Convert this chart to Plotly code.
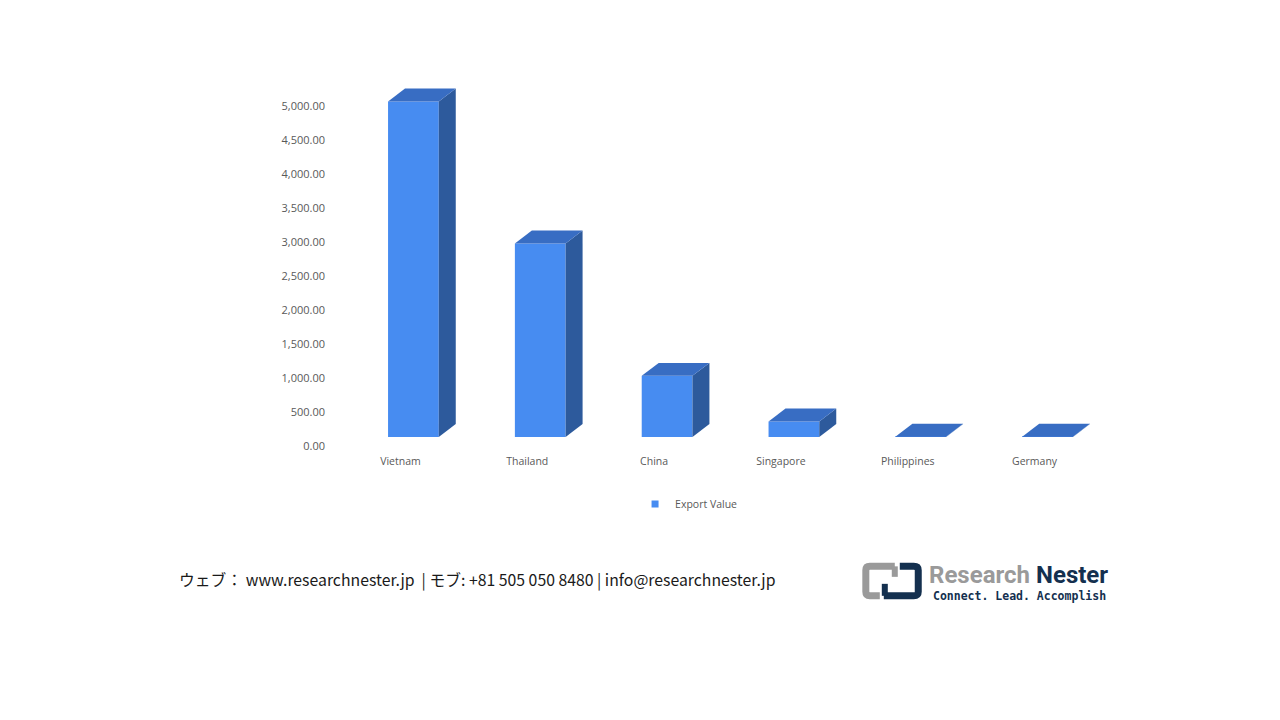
import plotly.graph_objects as go

categories = ["Vietnam", "Thailand", "China", "Singapore", "Philippines", "Germany"]
export_value = [4940, 2850, 900, 230, 5, 3]
y_tick_values = [0, 500, 1000, 1500, 2000, 2500, 3000, 3500, 4000, 4500, 5000]
y_tick_labels = [f"{v:,.2f}" for v in y_tick_values]
series_name = "Export Value"

W, H = 1280, 720
OFF = 8  # page body margin
L, R = 349.5 - OFF, 1111.5 - OFF
T, B = 76.6 - OFF, 437.0 - OFF
YMAX = 5300
PW, PH = R - L, B - T

FRONT = "#478CF1"
TOP = "#386DC3"
SIDE = "#2D5A9C"

n = len(categories)
xs = list(range(n))
bar_w = 0.40
px_per_cat = PW / n
px_per_val = PH / YMAX
dx = 17 / px_per_cat
dy = 13 / px_per_val

fig = go.Figure()
fig.add_trace(go.Bar(
    x=xs, y=export_value, width=bar_w, name=series_name,
    marker=dict(color=FRONT, line=dict(width=0)),
    showlegend=False,
))
fig.add_trace(go.Scatter(
    x=[None], y=[None], mode="markers", name=series_name,
    marker=dict(symbol="square", size=7, color=FRONT),
    showlegend=True, hoverinfo="skip",
))

shapes = []
for i, v in zip(xs, export_value):
    xl, xr = i - bar_w / 2, i + bar_w / 2
    side = f"M{xr},0 L{xr},{v} L{xr+dx},{v+dy} L{xr+dx},{dy} Z"
    top = f"M{xl},{v} L{xr},{v} L{xr+dx},{v+dy} L{xl+dx},{v+dy} Z"
    shapes.append(dict(type="path", path=side, xref="x", yref="y",
                       fillcolor=SIDE, line=dict(width=0), layer="above"))
    shapes.append(dict(type="path", path=top, xref="x", yref="y",
                       fillcolor=TOP, line=dict(width=0), layer="above"))

def px(p):
    return (p - OFF - L) / PW

def py(p):
    return (B - (p - OFF)) / PH

GRAY = "#9A9A9A"
NAVY = "#14304F"
# logo icon
shapes.append(dict(type="path", xref="paper", yref="paper",
                   path=f"M{px(895)},{py(566.5)} L{px(870)},{py(566.5)} Q{px(866)},{py(566.5)} {px(866)},{py(570.5)} "
                        f"L{px(866)},{py(592)} Q{px(866)},{py(596)} {px(870)},{py(596)} L{px(880)},{py(596)}",
                   line=dict(color=GRAY, width=7)))
shapes.append(dict(type="path", xref="paper", yref="paper",
                   path=f"M{px(895)},{py(566.5)} L{px(895)},{py(577)}",
                   line=dict(color=GRAY, width=6)))
shapes.append(dict(type="path", xref="paper", yref="paper",
                   path=f"M{px(900)},{py(566.5)} L{px(914)},{py(566.5)} Q{px(918.5)},{py(566.5)} {px(918.5)},{py(570.5)} "
                        f"L{px(918.5)},{py(592)} Q{px(918.5)},{py(596)} {px(914)},{py(596)} L{px(884)},{py(596)}",
                   line=dict(color=NAVY, width=7)))
shapes.append(dict(type="path", xref="paper", yref="paper",
                   path=f"M{px(885)},{py(596)} L{px(885)},{py(584)}",
                   line=dict(color=NAVY, width=6)))

annotations = [
    dict(xref="paper", yref="paper", x=px(176), y=py(580), xanchor="left", yanchor="middle",
         text="ウェブ： www.researchnester.jp  | モブ: +81 505 050 8480 | info@researchnester.jp",
         showarrow=False, font=dict(family="Noto Sans CJK JP", size=15.8, color="#1a1a1a")),
    dict(xref="paper", yref="paper", x=px(927), y=py(575), xanchor="left", yanchor="middle",
         text="<b>Research</b>", showarrow=False,
         font=dict(family="Roboto", size=24, color=GRAY)),
    dict(xref="paper", yref="paper", x=px(1110), y=py(575), xanchor="right", yanchor="middle",
         text="<b>Nester</b>", showarrow=False,
         font=dict(family="Roboto", size=24, color=NAVY)),
    dict(xref="paper", yref="paper", x=px(1020), y=py(596), xanchor="center", yanchor="middle",
         text="<b>Connect. Lead. Accomplish</b>", showarrow=False,
         font=dict(family="DejaVu Sans Mono", size=11.5, color=NAVY)),
]

fig.update_layout(
    width=W, height=H,
    margin=dict(l=L, r=W - R, t=T, b=H - B, pad=0),
    paper_bgcolor="white", plot_bgcolor="white",
    font=dict(family="Open Sans", color="#595959", size=10.5),
    showlegend=True,
    legend=dict(orientation="h", x=px(689), xanchor="center", y=py(504), yanchor="middle",
                itemwidth=30, font=dict(size=10.5, color="#595959")),
    xaxis=dict(range=[-0.5, n - 0.5], tickvals=xs, ticktext=categories,
               showgrid=False, zeroline=False, showline=False, ticks="",
               ticklabelshift=-13, ticklabelstandoff=16, fixedrange=True),
    yaxis=dict(range=[0, YMAX], tickvals=y_tick_values, ticktext=y_tick_labels,
               showgrid=False, zeroline=False, showline=False, ticks="",
               tickfont=dict(size=11),
               ticklabelshift=9, ticklabelstandoff=24, fixedrange=True),
    shapes=shapes,
    annotations=annotations,
)

fig.write_html("out.html")
